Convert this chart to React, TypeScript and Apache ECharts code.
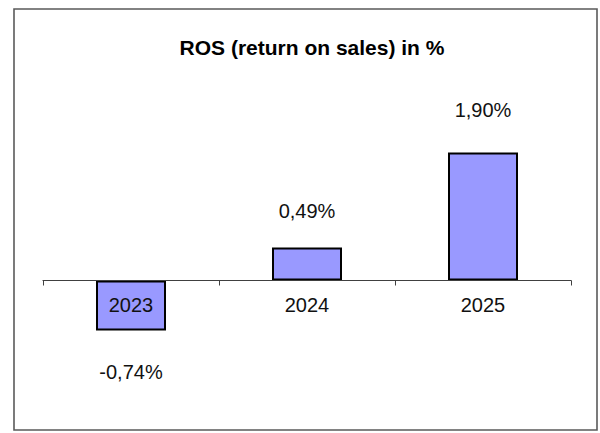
import React, { useEffect, useRef } from "react";
import * as echarts from "echarts";

const categories = ["2023", "2024", "2025"];
const rosValues = [-0.74, 0.49, 1.9];
const labelDistances = [32, 26, 32];
const titleText = "ROS (return on sales) in %";

const fmt = (v: number) => v.toFixed(2).replace(".", ",") + "%";

export default function App() {
  const ref = useRef<HTMLDivElement>(null);
  useEffect(() => {
    document.body.style.margin = "0";
    const chart = echarts.init(ref.current!, undefined, { renderer: "svg" });
    const font = "'Liberation Sans', Arial, sans-serif";
    chart.setOption({
      animation: false,
      backgroundColor: "#ffffff",
      graphic: [
        {
          type: "rect",
          shape: { x: 14, y: 9, width: 583, height: 421 },
          style: { fill: "none", stroke: "#5a5a5a", lineWidth: 1.6 },
          z: 100,
        },
        {
          type: "text",
          x: 312,
          y: 47,
          z: 100,
          style: {
            text: titleText,
            align: "center",
            verticalAlign: "middle",
            fontFamily: font,
            fontSize: 21,
            fontWeight: "bold",
            fill: "#000",
          },
        },
      ],
      grid: { left: 43, right: 29, top: 112, bottom: 51.4 },
      xAxis: {
        type: "category",
        data: categories,
        z: 5,
        axisLine: { onZero: true, lineStyle: { color: "#404040", width: 1.2 } },
        axisTick: { show: true, length: 5, lineStyle: { color: "#404040" } },
        axisLabel: { show: false },
      },
      yAxis: {
        type: "value",
        min: -1.5,
        max: 2.5,
        show: false,
        splitLine: { show: false },
      },
      series: [
        {
          type: "bar",
          barWidth: 70,
          data: rosValues.map((v, i) => ({
            value: v,
            label: { position: v >= 0 ? "top" : "bottom", distance: labelDistances[i] },
          })),
          itemStyle: { color: "#9999ff", borderColor: "#000", borderWidth: 2 },
          label: {
            show: true,
            fontFamily: font,
            fontSize: 20,
            color: "#111",
            formatter: (p: any) => fmt(p.value),
          },
        },
        {
          type: "scatter",
          z: 6,
          symbolSize: 0,
          silent: true,
          itemStyle: { opacity: 1 },
          data: categories.map((c) => [c, 0]),
          label: {
            show: true,
            position: "bottom",
            distance: 14,
            opacity: 1,
            fontFamily: font,
            fontSize: 20,
            color: "#111",
            formatter: (p: any) => categories[p.dataIndex],
          },
        },
      ],
    });
    return () => chart.dispose();
  }, []);
  return <div ref={ref} style={{ width: 600, height: 433 }} />;
}
